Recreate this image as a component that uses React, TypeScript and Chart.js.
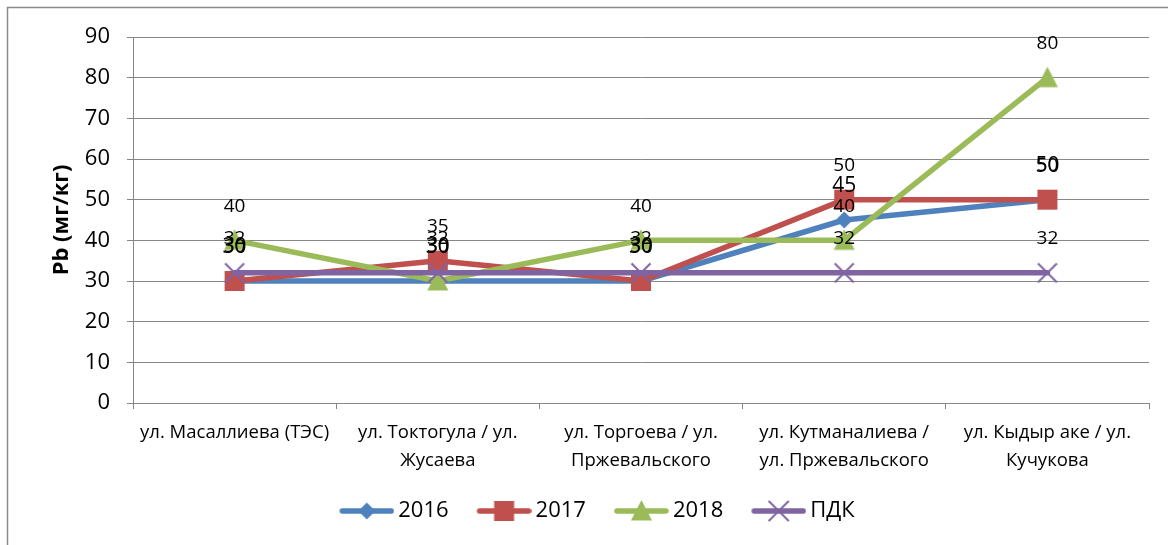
import React, { useEffect, useRef } from "react";
import { Chart, registerables } from "chart.js";

Chart.register(...registerables);

// ---------- data ----------
const categories: (string | string[])[] = [
  "ул. Масаллиева (ТЭС)",
  ["ул. Токтогула / ул.", "Жусаева"],
  ["ул. Торгоева / ул.", "Пржевальского"],
  ["ул. Кутманалиева /", "ул. Пржевальского"],
  ["ул. Кыдыр аке / ул.", "Кучукова"],
];
const seriesNames = ["2016", "2017", "2018", "ПДК"];
const values2016 = [30, 30, 30, 45, 50];
const values2017 = [30, 35, 30, 50, 50];
const values2018 = [40, 30, 40, 40, 80];
const valuesPDK = [32, 32, 32, 32, 32];
const yMin = 0;
const yMax = 90;
const yStep = 10;
const yTitle = "Pb (мг/кг)";

// ---------- styles ----------
const FONT = "'Open Sans', 'DejaVu Sans', sans-serif";
const colors = ["#4F81BD", "#C0504D", "#9BBB59", "#8064A2"];
const markers = ["diamond", "square", "triangle", "x"] as const;
const labelSizes = [21, 19, 19, 19];
const gridColor = "#878787";

type Marker = (typeof markers)[number];

function drawMarker(ctx: CanvasRenderingContext2D, m: Marker, cx: number, cy: number, color: string) {
  ctx.save();
  ctx.fillStyle = color;
  ctx.strokeStyle = color;
  if (m === "diamond") {
    ctx.beginPath();
    ctx.moveTo(cx - 8.5, cy);
    ctx.lineTo(cx, cy - 8.5);
    ctx.lineTo(cx + 8.5, cy);
    ctx.lineTo(cx, cy + 8.5);
    ctx.closePath();
    ctx.fill();
  } else if (m === "square") {
    ctx.fillRect(cx - 10, cy - 10, 20, 20);
  } else if (m === "triangle") {
    ctx.beginPath();
    ctx.moveTo(cx, cy - 11);
    ctx.lineTo(cx + 10.5, cy + 9.5);
    ctx.lineTo(cx - 10.5, cy + 9.5);
    ctx.closePath();
    ctx.fill();
  } else {
    ctx.lineWidth = 2;
    ctx.beginPath();
    ctx.moveTo(cx - 9.5, cy - 9.5);
    ctx.lineTo(cx + 9.5, cy + 9.5);
    ctx.moveTo(cx + 9.5, cy - 9.5);
    ctx.lineTo(cx - 9.5, cy + 9.5);
    ctx.stroke();
  }
  ctx.restore();
}

function markerImage(m: Marker, color: string) {
  const c = document.createElement("canvas");
  c.width = 24;
  c.height = 24;
  drawMarker(c.getContext("2d")!, m, 12, 12, color);
  return c;
}

function legendImage(m: Marker, color: string) {
  const c = document.createElement("canvas");
  c.width = 62;
  c.height = 24;
  const ctx = c.getContext("2d")!;
  ctx.strokeStyle = color;
  ctx.lineWidth = 5.5;
  ctx.lineCap = "round";
  ctx.beginPath();
  ctx.moveTo(10, 12);
  ctx.lineTo(59, 12);
  ctx.stroke();
  drawMarker(ctx, m, 34.5, 12, color);
  return c;
}

const framePlugin = {
  id: "frame",
  beforeDraw(chart: any) {
    const ctx = chart.ctx as CanvasRenderingContext2D;
    ctx.save();
    ctx.fillStyle = "#ffffff";
    ctx.fillRect(0, 0, chart.width, chart.height);
    ctx.strokeStyle = "#8a8a8a";
    ctx.lineWidth = 1.5;
    ctx.strokeRect(7.5, 7.5, chart.width + 100, chart.height + 100);
    ctx.restore();
  },
};

const dataLabelPlugin = {
  id: "dataLabels",
  afterDatasetsDraw(chart: any) {
    const ctx = chart.ctx as CanvasRenderingContext2D;
    ctx.save();
    ctx.textAlign = "center";
    ctx.textBaseline = "middle";
    ctx.fillStyle = "#000000";
    chart.data.datasets.forEach((ds: any, i: number) => {
      const meta = chart.getDatasetMeta(i);
      ctx.font = `${labelSizes[i]}px ${FONT}`;
      meta.data.forEach((pt: any, j: number) => {
        ctx.fillText(String(ds.data[j]), pt.x, pt.y - 34);
      });
    });
    ctx.restore();
  },
};

export default function App() {
  const ref = useRef<HTMLCanvasElement | null>(null);

  useEffect(() => {
    if (!ref.current) return;
    const seriesValues = [values2016, values2017, values2018, valuesPDK];
    const markerImgs = markers.map((m, i) => markerImage(m, colors[i]));
    const legendImgs = markers.map((m, i) => legendImage(m, colors[i]));

    const chart = new Chart(ref.current, {
      type: "line",
      data: {
        labels: categories,
        datasets: seriesNames.map((name, i) => ({
          label: name,
          data: seriesValues[i],
          borderColor: colors[i],
          backgroundColor: colors[i],
          borderWidth: 5.5,
          borderJoinStyle: "round",
          borderCapStyle: "round",
          tension: 0,
          pointStyle: markerImgs[i],
          pointRadius: 10,
          pointHoverRadius: 10,
          order: 4 - i,
        })) as any,
      },
      options: {
        responsive: false,
        animation: false,
        devicePixelRatio: 1,
        events: [],
        layout: { padding: { left: 45, right: 19, top: 37, bottom: 13 } },
        scales: {
          x: {
            type: "category",
            offset: true,
            grid: {
              offset: true,
              drawOnChartArea: false,
              drawTicks: true,
              tickLength: 6,
              color: gridColor,
            },
            border: { color: gridColor, width: 1 },
            ticks: {
              font: { family: FONT, size: 18.5, lineHeight: 1.5 },
              color: "#000000",
              padding: 10,
              maxRotation: 0,
              autoSkip: false,
            },
            afterFit: (s: any) => {
              s.height = 69;
            },
          },
          y: {
            min: yMin,
            max: yMax,
            ticks: {
              stepSize: yStep,
              font: { family: FONT, size: 22 },
              color: "#000000",
              padding: 17,
            },
            grid: { color: gridColor, tickLength: 6 },
            border: { color: gridColor, width: 1 },
            title: {
              display: true,
              text: yTitle,
              color: "#000000",
              font: { family: FONT, size: 22, weight: "bold" },
              padding: { top: 4, bottom: 0 },
            },
            afterFit: (s: any) => {
              s.width = 88;
            },
          },
        },
        plugins: {
          tooltip: { enabled: false },
          legend: {
            position: "bottom",
            labels: {
              usePointStyle: true,
              pointStyleWidth: 48,
              boxHeight: 22,
              padding: 28,
              color: "#000000",
              font: { family: FONT, size: 22 },
              generateLabels: (c: any) => {
                const items = (Chart.defaults.plugins.legend.labels as any).generateLabels(c);
                items.forEach((it: any) => {
                  it.pointStyle = legendImgs[it.datasetIndex];
                  it.fontColor = "#000000";
                });
                return items.sort((a: any, b: any) => a.datasetIndex - b.datasetIndex);
              },
            },
          },
        },
      } as any,
      plugins: [framePlugin, dataLabelPlugin],
    });
    return () => chart.destroy();
  }, []);

  return (
    <div style={{ position: "absolute", left: 0, top: 0, width: 1168, height: 545 }}>
      <canvas ref={ref} width={1168} height={545} style={{ display: "block" }} />
    </div>
  );
}
